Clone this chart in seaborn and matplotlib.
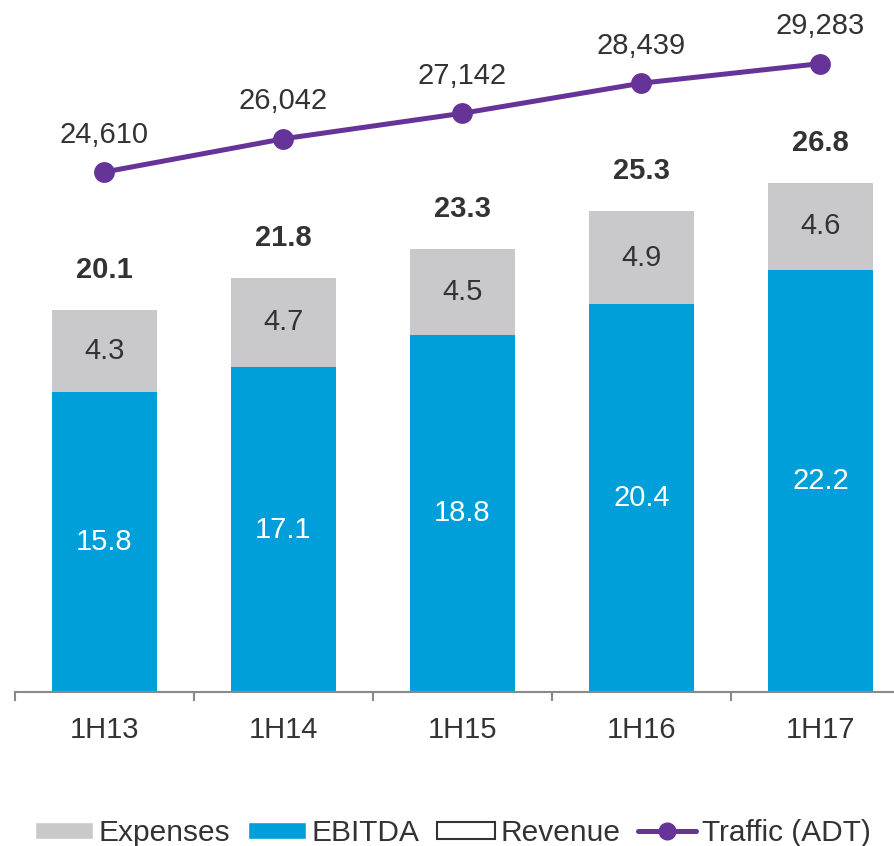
import numpy as np
import pandas as pd
import matplotlib.pyplot as plt
import seaborn as sns
from matplotlib.patches import Patch
from matplotlib.lines import Line2D

periods = ['1H13', '1H14', '1H15', '1H16', '1H17']
revenue = [20.1, 21.8, 23.3, 25.3, 26.8]
ebitda = [15.8, 17.1, 18.8, 20.4, 22.2]
expenses = [4.3, 4.7, 4.5, 4.9, 4.6]
traffic = [24610, 26042, 27142, 28439, 29283]

sns.set_style('white')
plt.rcParams['font.family'] = ['Liberation Sans', 'DejaVu Sans']

GREY = '#c9c9cb'
BLUE = '#009fda'
PURPLE = '#663399'
TXT = '#333333'
AXC = '#898989'

fig = plt.figure(figsize=(8.95, 8.46), dpi=100)
ax = fig.add_axes([15/895, 154/846, 1.0, 692/846])

df = pd.DataFrame({'period': periods, 'revenue': revenue,
                   'ebitda': ebitda, 'expenses': expenses})
sns.barplot(data=df, x='period', y='revenue', color=GREY, saturation=1,
            width=0.587, linewidth=0, ax=ax)
sns.barplot(data=df, x='period', y='ebitda', color=BLUE, saturation=1,
            width=0.587, linewidth=0, ax=ax)

for i in range(len(periods)):
    ax.text(i, ebitda[i] / 2, f'{ebitda[i]:.1f}', color='white',
            ha='center', va='center', fontsize=21)
    ax.text(i, ebitda[i] + expenses[i] / 2, f'{expenses[i]:.1f}', color=TXT,
            ha='center', va='center', fontsize=21)
    ax.text(i, revenue[i] + 2.1, f'{revenue[i]:.1f}', color=TXT,
            ha='center', va='center', fontsize=21, fontweight='bold')

ax.set_ylim(0, 692 / 19)
ax.set_yticks([])
ax.set_xlabel('')
ax.set_ylabel('')
ax.set_xticks(range(5))
ax.set_xticklabels(periods, fontsize=21, color=TXT)
ax.set_xticks(np.arange(-0.5, 5), minor=True)
ax.tick_params(axis='x', which='major', length=0, pad=17)
ax.tick_params(axis='x', which='minor', length=6.5, width=1.5, color=AXC,
               bottom=True)
for s in ['left', 'top', 'right']:
    ax.spines[s].set_visible(False)
ax.spines['bottom'].set_color(AXC)
ax.spines['bottom'].set_linewidth(1.5)

ax2 = ax.twinx()
sns.lineplot(x=np.arange(5), y=traffic, ax=ax2, color=PURPLE, lw=3.6,
             marker='o', markersize=15, markeredgewidth=0)
ax2.set_ylim(2196, 32024)
ax2.axis('off')
for i, v in enumerate(traffic):
    ax2.annotate(f'{v:,}', (i, v), xytext=(0, 27), textcoords='offset points',
                 ha='center', va='center', fontsize=21, color=TXT)
ax.set_xlim(-0.5, 4.5)

handles = [Patch(facecolor=GREY),
           Patch(facecolor=BLUE),
           Patch(facecolor='white', edgecolor=TXT, linewidth=1.5),
           Line2D([], [], color=PURPLE, lw=3.6, marker='o', markersize=12)]
labels = ['Expenses', 'EBITDA', 'Revenue', 'Traffic (ADT)']
leg = fig.legend(handles, labels, loc='center', bbox_to_anchor=(453/895, 1 - 833/846),
                 ncol=4, frameon=False, fontsize=21.5, handlelength=1.92,
                 handletextpad=0.2, columnspacing=0.6, handleheight=0.5)
for t in leg.get_texts():
    t.set_color(TXT)

fig.savefig('out.png', dpi=100)
